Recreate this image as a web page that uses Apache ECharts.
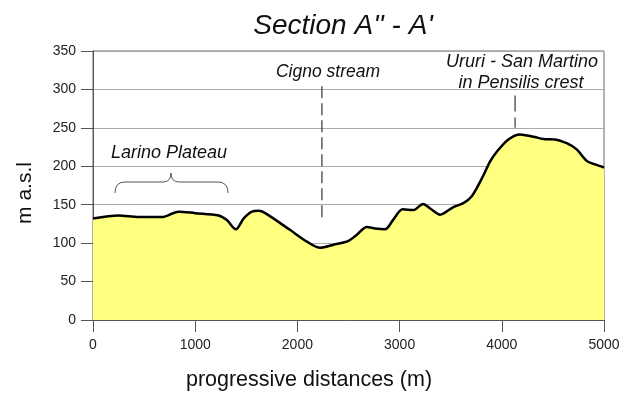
<!DOCTYPE html>
<html>
<head>
<meta charset="utf-8">
<script src="https://cdn.jsdelivr.net/npm/echarts@6/dist/echarts.min.js"></script>
<style>html,body{margin:0;padding:0;background:#fff}#c{width:630px;height:393px}</style>
</head>
<body>
<div id="c"></div>
<script>
// progressive distance (m)
const distances = [0, 250, 446, 675, 837, 1000, 1228, 1310, 1398, 1473, 1555, 1620, 1685, 1930, 2093, 2223, 2353, 2500, 2582, 2680, 2761, 2858, 2940, 3030, 3135, 3230, 3300, 3396, 3526, 3624, 3706, 3804, 3885, 3951, 4064, 4179, 4309, 4407, 4521, 4635, 4733, 4831, 4912, 5000];
// elevation (m a.s.l)
const elevations = [132, 136, 134, 134, 141, 139, 136, 130, 118, 132, 141, 142, 139, 117, 102, 94, 98, 103, 111, 121, 119, 118, 131, 144, 143, 151, 145, 137, 147, 152, 161, 184, 206, 219, 235, 241.5, 238.5, 235.5, 235, 230, 222, 207, 202.5, 198.5];
const xTicks = [0, 1000, 2000, 3000, 4000, 5000];
const yTicks = [0, 50, 100, 150, 200, 250, 300, 350];
// annotation markers: [distance, top elevation, bottom elevation]
const cignoMarker = [2240, 304, 133];
const crestMarker = [4130, 292, 250];

const profile = distances.map((d, i) => [d, elevations[i]]);
const FONT = 'Liberation Sans, Arial, sans-serif';

const braceStyle = {stroke: '#555', lineWidth: 1, fill: null};
const chart = echarts.init(document.getElementById('c'), null, {renderer: 'canvas'});
chart.setOption({
  animation: false,
  backgroundColor: '#fff',
  grid: {left: 93, right: 26, top: 51, bottom: 73, show: true, borderColor: '#666', borderWidth: 1},
  xAxis: {
    type: 'value', min: xTicks[0], max: xTicks[xTicks.length - 1], interval: 1000,
    axisLine: {show: true, lineStyle: {color: '#555', width: 1}},
    axisTick: {show: true, length: 12, inside: false, lineStyle: {color: '#555'}},
    axisLabel: {fontFamily: FONT, fontSize: 14, color: '#222', margin: 18, formatter: v => String(v)},
    splitLine: {show: false}
  },
  yAxis: {
    type: 'value', min: yTicks[0], max: yTicks[yTicks.length - 1], interval: 50,
    axisLine: {show: true, lineStyle: {color: '#555', width: 1}},
    axisTick: {show: true, length: 12, inside: false, lineStyle: {color: '#555'}},
    axisLabel: {fontFamily: FONT, fontSize: 14, color: '#222', margin: 17, formatter: v => String(v)},
    splitLine: {show: true, lineStyle: {color: '#aaa', width: 1}}
  },
  series: [
    {
      type: 'line', data: profile, smooth: 0.3, showSymbol: false, symbol: 'none',
      lineStyle: {color: '#000', width: 2.5},
      areaStyle: {color: '#ffff80', opacity: 1},
      z: 3
    },
    {
      type: 'line', data: [[cignoMarker[0], cignoMarker[1]], [cignoMarker[0], cignoMarker[2]]],
      symbol: 'none', lineStyle: {color: '#333', width: 1.2, type: [12, 5]}, z: 4
    },
    {
      type: 'line', data: [[crestMarker[0], crestMarker[1]], [crestMarker[0], crestMarker[2]]],
      symbol: 'none', lineStyle: {color: '#333', width: 1.2, type: [16, 6]}, z: 4
    }
  ],
  graphic: [
    {type: 'text', x: 343, y: 26, style: {text: "Section A'' - A'", font: 'italic 28px ' + FONT, fill: '#111', align: 'center', verticalAlign: 'middle'}},
    {type: 'text', x: 309, y: 380, style: {text: 'progressive distances (m)', font: '21.5px ' + FONT, fill: '#111', align: 'center', verticalAlign: 'middle'}},
    {type: 'text', x: 25, y: 193, rotation: Math.PI / 2, style: {text: 'm a.s.l', font: '21px ' + FONT, fill: '#111', align: 'center', verticalAlign: 'middle'}},
    {type: 'text', x: 328, y: 72, style: {text: 'Cigno stream', font: 'italic 17.5px ' + FONT, fill: '#111', align: 'center', verticalAlign: 'middle'}},
    {type: 'text', x: 522, y: 62, style: {text: 'Ururi - San Martino', font: 'italic 18px ' + FONT, fill: '#111', align: 'center', verticalAlign: 'middle'}},
    {type: 'text', x: 521, y: 83, style: {text: 'in Pensilis crest', font: 'italic 18px ' + FONT, fill: '#111', align: 'center', verticalAlign: 'middle'}},
    {type: 'text', x: 169, y: 153, style: {text: 'Larino Plateau', font: 'italic 18px ' + FONT, fill: '#111', align: 'center', verticalAlign: 'middle'}},
    {type: 'bezierCurve', shape: {x1: 115, y1: 193, cpx1: 115, cpy1: 182, x2: 125, y2: 182}, style: braceStyle},
    {type: 'line', shape: {x1: 125, y1: 182, x2: 163, y2: 182}, style: braceStyle},
    {type: 'bezierCurve', shape: {x1: 163, y1: 182, cpx1: 171, cpy1: 182, x2: 171, y2: 173}, style: braceStyle},
    {type: 'bezierCurve', shape: {x1: 171, y1: 173, cpx1: 171, cpy1: 182, x2: 179, y2: 182}, style: braceStyle},
    {type: 'line', shape: {x1: 179, y1: 182, x2: 218, y2: 182}, style: braceStyle},
    {type: 'bezierCurve', shape: {x1: 218, y1: 182, cpx1: 228, cpy1: 182, x2: 228, y2: 193}, style: braceStyle}
  ]
});
</script>
</body>
</html>
